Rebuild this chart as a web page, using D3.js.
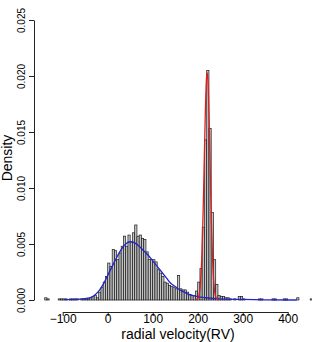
<!DOCTYPE html>
<html>
<head>
<meta charset="utf-8">
<script src="https://cdn.jsdelivr.net/npm/d3@7"></script>
<style>
  body { margin: 0; background: #fff; }
  text { font-family: "Liberation Sans", Arial, sans-serif; fill: #000; }
</style>
</head>
<body>
<div id="chart"></div>
<script>
// histogram bins (width 5), first bin starts at -140
var binWidth = 5;
var firstBin = -140;
var binDensity = [
  0.0002, 0.0001, 0, 0, 0, 0, 0.0001, 0.0001, 0.0001, 0.0001,
  0, 0.0001, 0.0001, 0.0001, 0.0001, 0, 0.0001, 0.0001, 0.0001, 0.0001,
  0.0002, 0.0003, 0.0004, 0.0002, 0.0007, 0.0011, 0.0016, 0.0021, 0.0033, 0.0030,
  0.0045, 0.0044, 0.0036, 0.0042, 0.0048, 0.0057, 0.0048, 0.0058, 0.0052, 0.0060,
  0.0067, 0.0057, 0.0058, 0.0055, 0.0054, 0.0043, 0.0036, 0.0036, 0.0036, 0.0034,
  0.0027, 0.0024, 0.0021, 0.0016, 0.0015, 0.0013, 0.0012, 0.0011, 0.0010, 0.0022,
  0.0010, 0.0009, 0.0009, 0.0007, 0.0005, 0.0004, 0.0004, 0.0008, 0.0016, 0.0028,
  0.0065, 0.0143, 0.0205, 0.0153, 0.0078, 0.0036, 0.0014, 0.0004, 0.0003, 0.0003,
  0.0002, 0.0002, 0.0001, 0, 0.0001, 0, 0.0003, 0.0003, 0.0001, 0,
  0, 0, 0, 0, 0, 0.0001, 0.0001, 0, 0, 0,
  0, 0.0001, 0.0001, 0, 0, 0, 0.0001, 0.0001, 0, 0,
  0, 0, 0.0002, 0, 0, 0, 0, 0, 0.0001
];

// broad component (blue)
var blueX = [-95, -60, -40, -30, -20, -10, 0, 10, 20, 30, 40, 50, 60, 70, 80, 90, 100,
             110, 120, 130, 140, 150, 160, 170, 180, 190, 200, 220, 250, 300, 350, 420];
var blueY = [0.00003, 0.00008, 0.00018, 0.0004, 0.0008, 0.0014, 0.0022, 0.0030, 0.0038,
             0.0045, 0.0050, 0.0052, 0.0051, 0.0048, 0.0044, 0.0040, 0.0035, 0.0030,
             0.0025, 0.0020, 0.0015, 0.0012, 0.0009, 0.0007, 0.0005, 0.0004, 0.0003,
             0.0002, 0.0001, 0.00005, 0.00002, 0];

// narrow component (red)
var redX = [195, 201, 203, 205, 207, 209, 211, 213, 215, 217, 219, 221,
            223, 225, 227, 229, 231, 233, 235, 237, 239, 241, 247];
var redY = [0.00002, 0.00018, 0.00044, 0.00098, 0.0020, 0.0037, 0.0062, 0.0095, 0.0133,
            0.0168, 0.0194, 0.0203, 0.0194, 0.0168, 0.0133, 0.0095, 0.0062, 0.0037,
            0.0020, 0.00098, 0.00044, 0.00018, 0.00002];

var xTicks = [-100, 0, 100, 200, 300, 400];
var yTicks = [0, 0.005, 0.010, 0.015, 0.020, 0.025];

var W = 312, H = 342;

var svg = d3.select("#chart")
    .append("svg")
    .attr("width", W)
    .attr("height", H);

var x = d3.scaleLinear().domain([-100, 400]).range([62.7, 287.7]);
var y = d3.scaleLinear().domain([0, 0.025]).range([300, 20]);

var bins = binDensity.map(function (d, i) {
    return { x0: firstBin + i * binWidth, x1: firstBin + (i + 1) * binWidth, value: d };
});

svg.append("g")
    .selectAll("rect")
    .data(bins)
    .enter()
    .append("rect")
    .attr("x", function (d) { return x(d.x0) })
    .attr("y", function (d) { return y(d.value) })
    .attr("width", function (d) { return x(d.x1) - x(d.x0) })
    .attr("height", function (d) { return y(0) - y(d.value) })
    .style("fill", "#c4c4c4")
    .style("stroke", "#1a1a1a")
    .style("stroke-width", 0.7);

var line = d3.line()
    .x(function (d) { return x(d[0]) })
    .y(function (d) { return y(d[1]) })
    .curve(d3.curveMonotoneX);

svg.append("path")
    .datum(blueX.map(function (v, i) { return [v, blueY[i]]; }))
    .attr("d", line)
    .style("fill", "none")
    .style("stroke", "#2424c8")
    .style("stroke-width", 1.3);

svg.append("path")
    .datum(redX.map(function (v, i) { return [v, redY[i]]; }))
    .attr("d", line)
    .style("fill", "none")
    .style("stroke", "#d82020")
    .style("stroke-width", 1.3);

// axes
var xAxis = svg.append("g")
    .attr("transform", "translate(0,312)")
    .call(d3.axisBottom(x).tickValues(xTicks).tickSize(4).tickSizeOuter(0)
        .tickFormat(function (d) { return d < 0 ? "\u2212" + Math.abs(d) : d; }));
xAxis.selectAll("text")
    .attr("y", 2)
    .attr("dy", "0.71em")
    .style("font-size", "12px");

var yAxis = svg.append("g")
    .attr("transform", "translate(34,0)")
    .call(d3.axisLeft(y).tickValues(yTicks).tickSize(5).tickSizeOuter(0)
        .tickFormat(d3.format(".3f")));
yAxis.selectAll("text")
    .attr("transform", "rotate(-90)")
    .attr("x", 0)
    .attr("y", -9)
    .attr("dy", 0)
    .attr("text-anchor", "middle")
    .style("font-size", "10px");

svg.selectAll(".domain, .tick line").style("stroke", "#222");

svg.append("text")
    .attr("x", 178)
    .attr("y", 339)
    .attr("text-anchor", "middle")
    .style("font-size", "14px")
    .text("radial velocity(RV)");

svg.append("text")
    .attr("transform", "translate(12,158) rotate(-90)")
    .attr("text-anchor", "middle")
    .style("font-size", "14px")
    .text("Density");
</script>
</body>
</html>
